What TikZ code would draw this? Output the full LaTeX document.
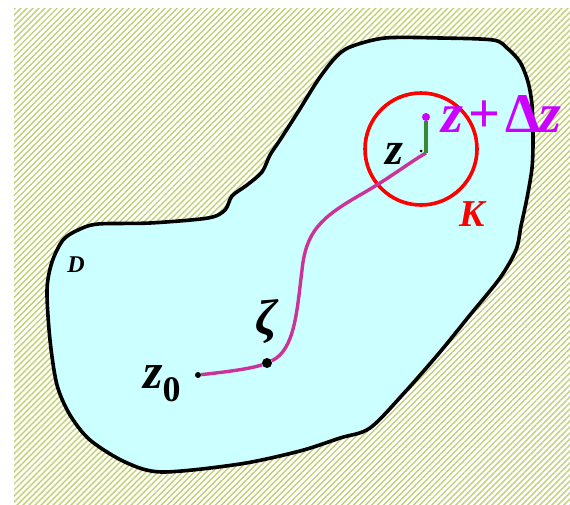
\documentclass[tikz,border=0pt]{standalone}
\usepackage{fontspec}
\setmainfont{Liberation Serif}
\usetikzlibrary{patterns.meta}
\definecolor{regioncolor}{RGB}{204,255,255}
\definecolor{hatchcolor}{RGB}{192,208,118}
\definecolor{pathcolor}{RGB}{204,51,153}
\definecolor{labelcolor}{RGB}{204,0,255}
\definecolor{stepcolor}{RGB}{60,135,50}

\begin{document}
\begin{tikzpicture}[x=1pt,y=-1pt,
  dot/.style={circle,fill=black,inner sep=0pt,minimum size=#1},
  dot/.default=7pt,
  bigtext/.style={font=\fontsize{#1}{#1}\selectfont\bfseries\itshape}
]
\useasboundingbox (0,0) rectangle (570,504);

% Hatched plane
\fill[
pattern={Lines[angle=45,distance=4.25pt,line width=1.4pt]},
pattern color=hatchcolor
] (14,8) rectangle (570,504);

% Region D
\draw[
fill=regioncolor,
line width=3.6pt,
line join=round
] plot[smooth cycle,tension=0.5] coordinates {
(385,38) (440,38) (493,40) (507,48) (520,62) (528,82) (532,105)
(533,140) (532,168) (527,198) (521,226) (516,250) (500,278)
(470,315) (440,352) (405,392) (370,428) (340,438) (300,451)
(240,464) (162,472) (125,462) (90,440) (70,415) (57,385)
(50,340) (47,290) (52,262) (63,240) (78,230) (98,224) (150,223)
(208,218) (225,210) (232,196) (247,185) (262,172) (270,155)
(280,140) (298,112) (318,80) (335,58) (350,47)};

% Disc K
\draw[red,line width=3.6pt] (421,149) circle (56);

% Points
\node[dot=6pt] (z0) at (198,375) {};
\node[dot=10pt] (zeta) at (267,363) {};
\node[dot=3pt] (z) at (421,151) {};
\coordinate (zend) at (426,153);
\node[dot=8pt,fill=labelcolor] (zdz) at (426,117) {};

% Path from z0 to z
\draw[pathcolor,line width=3.4pt]
(z0) .. controls (225,372) and (250,369) .. (zeta)
.. controls (295,350) and (297,310) .. (302,270)
.. controls (306,232) and (320,218) .. (360,195)
.. controls (390,178) and (410,162) .. (zend);

% Increment
\draw[stepcolor,line width=3.6pt] (zend) -- (zdz);

% Labels
\node[bigtext=24] (Dlabel) at (76,265) {D};
\node[bigtext=38,text=red] (Klabel) at (472,214) {K};
\node[bigtext=46,anchor=base west,inner sep=0pt] (zlabel) at (385,164) {z};
\node[bigtext=50,inner sep=0pt] (zetalabel) at (267,322) {ζ};
\node[bigtext=50,anchor=base west,inner sep=0pt] (z0label) at (143,388)
{z\raisebox{-13pt}{\fontsize{36}{36}\selectfont\upshape 0}};
\node[bigtext=56,text=labelcolor,anchor=base west,inner sep=0pt] (zdzlabel) at (441,132)
{z\hspace{6pt}{\upshape +}\hspace{5pt}{\upshape Δ}\hspace{-2pt}z};

\end{tikzpicture}
\end{document}
